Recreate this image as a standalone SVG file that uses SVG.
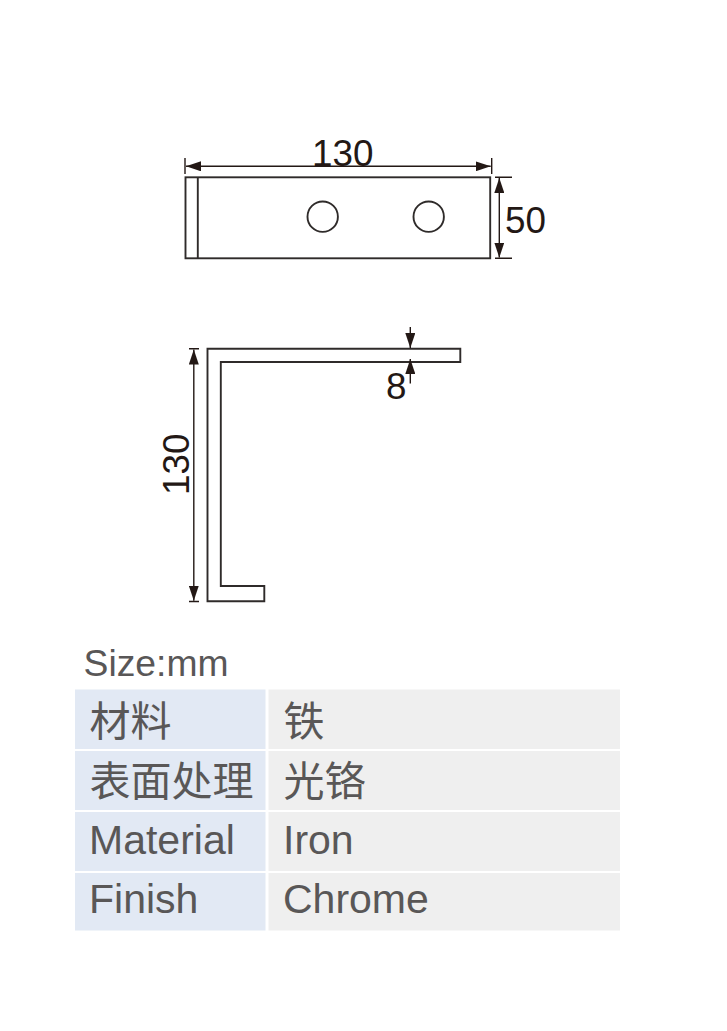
<svg xmlns="http://www.w3.org/2000/svg" width="727" height="1031" viewBox="0 0 727 1031">
<style>
.o{fill:none;stroke:#2f2b2a;stroke-width:1.9}
.d{fill:none;stroke:#231815;stroke-width:1.4}
.n{font-family:"Liberation Sans",Arial,sans-serif;font-size:36.8px;fill:#231815}
.t{font-family:"Liberation Sans",Arial,sans-serif;font-size:41px;fill:#595757}
.s{font-size:37.3px}
.c{font-family:"Noto Sans CJK SC",sans-serif;font-size:41px;fill:#595757}
.b{fill:#e2e9f4}.g{fill:#efefef}
</style>
<defs>
<marker id="a" markerUnits="userSpaceOnUse" viewBox="0 0 15 10" refX="15" refY="5" markerWidth="15" markerHeight="10" orient="auto-start-reverse"><path d="M0 0L15 5L0 10Z" fill="#231815"/></marker>
</defs>
<rect width="727" height="1031" fill="#fff"/>
<g id="front-view">
<rect class="o" x="185.5" y="177.3" width="304.7" height="81"/>
<path class="o" d="M197.8 177.3V258.3"/>
<circle class="o" cx="322.7" cy="216.7" r="15.2"/>
<circle class="o" cx="428.7" cy="216.7" r="15.2"/>
</g>
<g id="side-view">
<path class="o" d="M207.5 348.7H460.3V362H220.8V586H264.3V601.3H207.5Z"/>
</g>
<g id="connectors">
<path class="d" d="M185 158V174M491.7 158V174M495 177.3H512M495 258.3H512M189 348.7H199M189 601.5H199"/>
<path class="d" d="M186 166.3H490.7" marker-start="url(#a)" marker-end="url(#a)"/>
<path class="d" d="M499.3 178V257.6" marker-start="url(#a)" marker-end="url(#a)"/>
<path class="d" d="M193.8 349.5V600.7" marker-start="url(#a)" marker-end="url(#a)"/>
<path class="d" d="M410.3 327V348" marker-end="url(#a)"/>
<path class="d" d="M410.3 383.5V359" marker-end="url(#a)"/>
</g>
<g id="dim-labels">
<text class="n" x="312" y="165.5">130</text>
<text class="n" x="505" y="233">50</text>
<text class="n" x="386" y="399">8</text>
<text class="n" transform="translate(188.5 495) rotate(-90)">130</text>
</g>
<g id="spec-table">
<text class="t s" x="83.5" y="675.7">Size:mm</text>
<rect class="b" x="75" y="689.5" width="190.5" height="59.5"/><rect class="g" x="268.5" y="689.5" width="351.5" height="59.5"/>
<rect class="b" x="75" y="751" width="190.5" height="59"/><rect class="g" x="268.5" y="751" width="351.5" height="59"/>
<rect class="b" x="75" y="812" width="190.5" height="59"/><rect class="g" x="268.5" y="812" width="351.5" height="59"/>
<rect class="b" x="75" y="873" width="190.5" height="57.5"/><rect class="g" x="268.5" y="873" width="351.5" height="57.5"/>
<text class="c" x="89.5" y="736">材料</text><text class="c" x="283.5" y="736">铁</text>
<text class="c" x="89.5" y="795.5">表面处理</text><text class="c" x="283.5" y="795.5">光铬</text>
<text class="t" x="89" y="853.5">Material</text><text class="t" x="283" y="853.5">Iron</text>
<text class="t" x="89" y="913">Finish</text><text class="t" x="283" y="913">Chrome</text>
</g>
</svg>
